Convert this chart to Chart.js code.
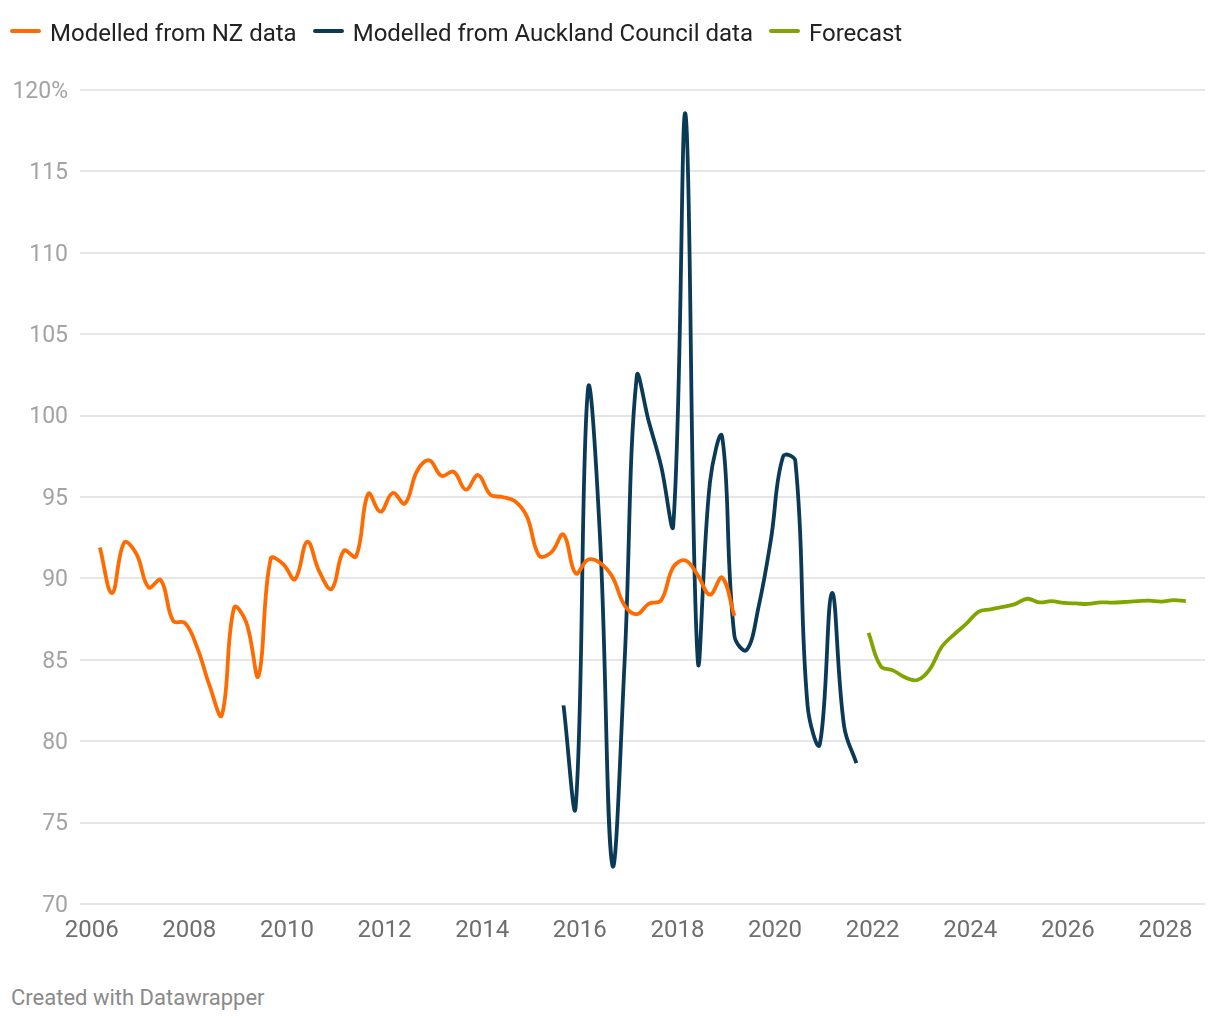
<!DOCTYPE html>
<html>
<head>
<meta charset="utf-8">
<script src="https://cdn.jsdelivr.net/npm/chart.js@4/dist/chart.umd.min.js"></script>
<style>
    body { margin: 0; background: #fff; font-family: Roboto, "Noto Sans", sans-serif; }
    #wrap { position: relative; width: 1220px; height: 1020px; overflow: hidden; }
    #chart { position: absolute; left: 0; top: 0; }
    #legend { position: absolute; left: 10px; top: 15px; height: 36px; display: flex; align-items: center; }
    .item { display: flex; align-items: center; margin-right: 16px; font-size: 24px; color: #222; line-height: 36px; }
    .swatch { width: 31px; height: 4px; border-radius: 2px; margin-right: 9px; transform: translateY(-2px); }
    #footer { position: absolute; left: 11px; top: 985px; font-size: 22px; color: #8a8a8a; }
</style>
</head>
<body>
<div id="wrap">
    <canvas id="chart" width="1220" height="950"></canvas>
    <div id="legend"></div>
    <div id="footer">Created with Datawrapper</div>
</div>
<script>
/* ================= DATA ================= */
const quarters = [
    '2006-03', '2006-06', '2006-09', '2006-12', '2007-03', '2007-06', '2007-09', '2007-12',
    '2008-03', '2008-06', '2008-09', '2008-12', '2009-03', '2009-06', '2009-09', '2009-12',
    '2010-03', '2010-06', '2010-09', '2010-12', '2011-03', '2011-06', '2011-09', '2011-12',
    '2012-03', '2012-06', '2012-09', '2012-12', '2013-03', '2013-06', '2013-09', '2013-12',
    '2014-03', '2014-06', '2014-09', '2014-12', '2015-03', '2015-06', '2015-09', '2015-12',
    '2016-03', '2016-06', '2016-09', '2016-12', '2017-03', '2017-06', '2017-09', '2017-12',
    '2018-03', '2018-06', '2018-09', '2018-12', '2019-03', '2019-06', '2019-09', '2019-12',
    '2020-03', '2020-06', '2020-09', '2020-12', '2021-03', '2021-06', '2021-09', '2021-12',
    '2022-03', '2022-06', '2022-09', '2022-12', '2023-03', '2023-06', '2023-09', '2023-12',
    '2024-03', '2024-06', '2024-09', '2024-12', '2025-03', '2025-06', '2025-09', '2025-12',
    '2026-03', '2026-06', '2026-09', '2026-12', '2027-03', '2027-06', '2027-09', '2027-12',
    '2028-03', '2028-06'
];

const nzStart = '2006-03';
const nzValues = [
    91.9, 89.1, 92.2, 91.5, 89.45, 89.9, 87.4, 87.25, 85.7, 83.4, 81.6, 88.2, 87.3,
    84.0, 91.2, 90.9, 89.95, 92.25, 90.4, 89.35, 91.7, 91.35, 95.2, 94.1, 95.25, 94.6,
    96.6, 97.25, 96.3, 96.55, 95.45, 96.35, 95.15, 95.0, 94.75, 93.8, 91.4, 91.6, 92.7,
    90.3, 91.15, 90.95, 90.1, 88.35, 87.8, 88.45, 88.65, 90.7, 91.1, 90.2, 89.0, 90.05,
    87.7
];

const aucStart = '2015-09';
const aucValues = [
    82.2, 76.0, 101.6, 92.4, 72.4, 84.8, 102.4, 99.6, 96.9, 93.3, 118.5, 85.0, 95.9,
    98.7, 86.5, 85.6, 88.3, 92.4, 97.5, 97.2, 82.2, 79.8, 89.1, 80.9, 78.65
];

const forecastStart = '2021-12';
const forecastValues = [
    86.65, 84.6, 84.35, 83.92, 83.76, 84.4, 85.8, 86.55, 87.2, 87.95, 88.1, 88.25, 88.42,
    88.75, 88.53, 88.6, 88.5, 88.46, 88.43, 88.53, 88.51, 88.55, 88.6, 88.63, 88.57,
    88.66, 88.6
];

const seriesNames = ['Modelled from NZ data', 'Modelled from Auckland Council data', 'Forecast'];
const seriesColors = ['#ff6b00', '#0b3a56', '#80a500'];

const xTickYears = [2006, 2008, 2010, 2012, 2014, 2016, 2018, 2020, 2022, 2024, 2026, 2028];
const yTickValues = [70, 75, 80, 85, 90, 95, 100, 105, 110, 115, 120];

/* ================= HELPERS ================= */
function toYear(q) {
    const [y, m] = q.split('-').map(Number);
    return y + (m - 1) / 12;
}

function toPoints(start, values) {
    const offset = quarters.indexOf(start);
    return values.map((v, i) => ({ x: toYear(quarters[offset + i]), y: v }));
}

const seriesData = [
    toPoints(nzStart, nzValues),
    toPoints(aucStart, aucValues),
    toPoints(forecastStart, forecastValues)
];

/* ================= CHART ================= */
const chart = new Chart(document.getElementById('chart'), {
    type: 'line',
    data: {
        datasets: seriesNames.map((name, i) => ({
            label: name,
            data: seriesData[i],
            borderColor: seriesColors[i],
            borderWidth: 3.8,
            pointRadius: 0,
            tension: 0.4,
            fill: false
        }))
    },
    options: {
        responsive: false,
        animation: false,
        devicePixelRatio: 1,
        layout: { padding: { top: 90, right: 15, left: 0, bottom: 0 } },
        plugins: {
            legend: { display: false },
            tooltip: { enabled: false }
        },
        scales: {
            x: {
                type: 'linear',
                min: 2005.76,
                max: 2028.81,
                grid: { display: false },
                border: { display: false },
                afterBuildTicks: scale => {
                    scale.ticks = xTickYears.map(v => ({ value: v }));
                },
                afterFit: scale => { scale.height = 46; },
                ticks: {
                    autoSkip: false,
                    maxRotation: 0,
                    padding: 5,
                    color: '#6e6e6e',
                    font: { family: 'Roboto', size: 24 },
                    callback: v => String(v)
                }
            },
            y: {
                min: 70,
                max: 120,
                grid: { color: '#e6e6e6', lineWidth: 2, drawTicks: false },
                border: { display: false },
                afterBuildTicks: scale => {
                    scale.ticks = yTickValues.map(v => ({ value: v }));
                },
                afterFit: scale => { scale.width = 80; },
                ticks: {
                    padding: 12,
                    labelOffset: 2,
                    color: '#a3a3a3',
                    font: { family: 'Roboto', size: 23 },
                    callback: v => v === 120 ? '120%' : String(v)
                }
            }
        }
    }
});

/* ================= LEGEND ================= */
const legendEl = document.getElementById('legend');
chart.data.datasets.forEach(ds => {
    const item = document.createElement('div');
    item.className = 'item';
    const swatch = document.createElement('span');
    swatch.className = 'swatch';
    swatch.style.background = ds.borderColor;
    item.appendChild(swatch);
    item.appendChild(document.createTextNode(ds.label));
    legendEl.appendChild(item);
});
</script>
</body>
</html>
